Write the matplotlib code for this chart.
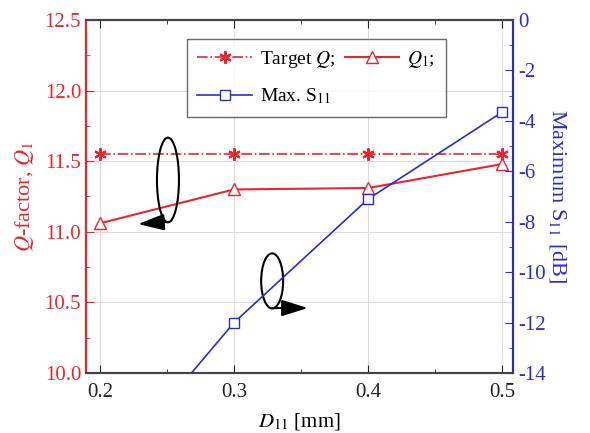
import matplotlib
matplotlib.use("Agg")
import matplotlib.pyplot as plt
from matplotlib.patches import Ellipse
from matplotlib.ticker import MultipleLocator

plt.rcParams["font.family"] = ["Liberation Serif", "DejaVu Serif"]
plt.rcParams["mathtext.fontset"] = "stix"
plt.rcParams["axes.unicode_minus"] = False

# data
d11 = [0.2, 0.3, 0.4, 0.5]
target_q = [11.55, 11.55, 11.55, 11.55]
q1 = [11.06, 11.30, 11.31, 11.48]
s11 = [-18.3, -12.0, -7.1, -3.65]

red = "#e8262b"
blue = "#2b2bd0"

fig = plt.figure(figsize=(5.9, 4.33), dpi=100)
ax1 = fig.add_axes([0.1458, 0.1386, 0.7237, 0.8152])
ax2 = ax1.twinx()

# Q lines
l_target, = ax1.plot(d11, target_q, color=red, linestyle="-.", linewidth=1.2,
                     marker=(6, 2, 0), markersize=9, markeredgewidth=1.5,
                     label=r"Target $Q$;", zorder=3)
l_q1, = ax1.plot(d11, q1, color=red, linewidth=1.5, marker="^", markersize=9,
                 markerfacecolor="white", markeredgecolor=red, markeredgewidth=1,
                 label=r"$Q_1$;", zorder=3)

# S11 line
l_s11, = ax2.plot(d11, s11, color=blue, linewidth=1.2, marker="s", markersize=7,
                  markerfacecolor="white", markeredgecolor=blue, markeredgewidth=1,
                  label=r"Max. S$_{11}$", zorder=3)

ax1.set_xlim(0.1896, 0.508)
ax1.set_ylim(10.0, 12.5)
ax2.set_ylim(-14, 0)

ax1.xaxis.set_major_locator(MultipleLocator(0.1))
ax1.xaxis.set_minor_locator(MultipleLocator(0.05))
ax1.yaxis.set_major_locator(MultipleLocator(0.5))
ax1.yaxis.set_minor_locator(MultipleLocator(0.25))
ax2.yaxis.set_major_locator(MultipleLocator(2))
ax2.yaxis.set_minor_locator(MultipleLocator(1))

ax1.grid(True, which="major", color="#dddddd", linewidth=0.8)
ax1.set_axisbelow(True)

ax1.tick_params(axis="x", which="both", direction="in", top=True, labelsize=15,
                colors="#222222", pad=7)
ax1.tick_params(axis="x", which="major", length=6)
ax1.tick_params(axis="x", which="minor", length=3)
ax1.tick_params(axis="y", which="both", direction="in", colors=red, labelsize=15)
ax1.tick_params(axis="y", which="major", length=6)
ax1.tick_params(axis="y", which="minor", length=3)
ax2.tick_params(axis="y", which="both", direction="in", colors=blue, labelsize=15)
ax2.tick_params(axis="y", which="major", length=6)
ax2.tick_params(axis="y", which="minor", length=3)

ax1.set_yticklabels([f"{v:.1f}" for v in ax1.get_yticks()])
ax2.set_yticklabels([f"{int(v)}" for v in ax2.get_yticks()])

for ax in (ax1, ax2):
    ax.spines["left"].set_color(red)
    ax.spines["right"].set_color(blue)
    ax.spines["top"].set_color("#444444")
    ax.spines["bottom"].set_color("#444444")
    for s in ax.spines.values():
        s.set_linewidth(1.5)

ax1.set_xlabel(r"$D_{11}$ [mm]", fontsize=15, labelpad=7)
ax1.set_ylabel(r"$Q$-factor, $Q_1$", fontsize=16, color=red, labelpad=6)
ax2.set_ylabel(r"Maximum S$_{11}$ [dB]", fontsize=16, color=blue,
               rotation=270, labelpad=16)

# legend
leg = ax2.legend([l_target, l_s11, l_q1],
                 [l_target.get_label(), l_s11.get_label(), l_q1.get_label()],
                 ncol=2, loc="upper center", bbox_to_anchor=(0.539, 0.975),
                 fontsize=14, frameon=True, fancybox=False, edgecolor="#444444",
                 handlelength=2.8, columnspacing=0.5, handletextpad=0.4,
                 borderpad=0.55, labelspacing=0.85)
leg.get_frame().set_linewidth(1.0)

# ellipses and arrows
arrow = dict(arrowstyle="-|>,head_length=0.8,head_width=0.25", color="black",
             lw=1.5, mutation_scale=20, shrinkA=0, shrinkB=0)
ax1.add_patch(Ellipse((0.2507, 11.367), 0.0164, 0.60, fill=False,
                      edgecolor="black", linewidth=1.5, zorder=4))
ax1.annotate("", xy=(0.2284, 11.055), xytext=(0.2507, 11.07),
             arrowprops=arrow, zorder=4)
ax1.add_patch(Ellipse((0.3284, 10.652), 0.0164, 0.39, fill=False,
                      edgecolor="black", linewidth=1.5, zorder=4))
ax1.annotate("", xy=(0.355, 10.46), xytext=(0.3284, 10.46),
             arrowprops=arrow, zorder=4)

fig.savefig("out.png", dpi=100)
